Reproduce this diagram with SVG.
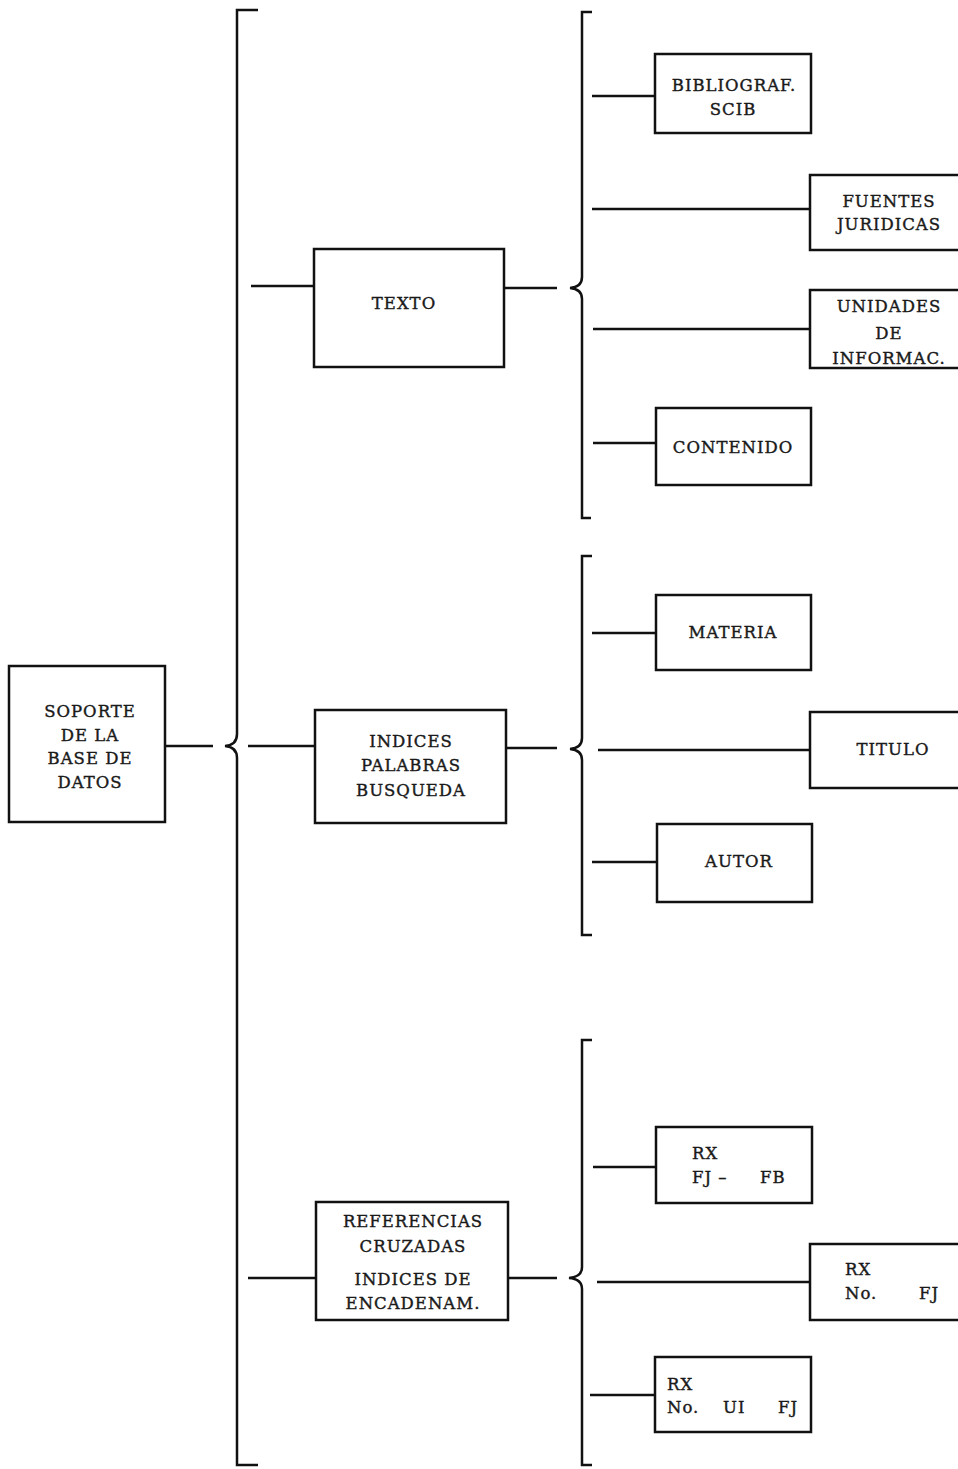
<svg xmlns="http://www.w3.org/2000/svg" width="958" height="1469" viewBox="0 0 958 1469">
<style>
.box{fill:#fff;stroke:#111;stroke-width:2.5}
.ln{fill:none;stroke:#111;stroke-width:2.5;stroke-linecap:butt;stroke-linejoin:miter}
text{font-family:"DejaVu Serif","Liberation Serif",serif;font-size:16.5px;fill:#1a1a1a;stroke:#1a1a1a;stroke-width:0.4;letter-spacing:1px}
.c{text-anchor:middle}
</style>
<rect width="958" height="1469" fill="#fff"/>
<g id="connectors">
<path class="ln" d="M258 10 L237 10 L237 734 Q237 745 225 746 Q237 747 237 758 L237 1465 L258 1465"/>
<path class="ln" d="M165 746 H213"/>
<path class="ln" d="M248 746 H315"/>
<path class="ln" d="M251 286 H314"/>
<path class="ln" d="M248 1278 H316"/>
<path class="ln" d="M592 12 L582 12 L582 277 Q582 287 570 288 Q582 289 582 299 L582 518 L591 518"/>
<path class="ln" d="M504 288 H557"/>
<path class="ln" d="M592 96 H655"/>
<path class="ln" d="M592 209 H810"/>
<path class="ln" d="M593 329 H810"/>
<path class="ln" d="M593 443 H656"/>
<path class="ln" d="M592 556 L582 556 L582 738 Q582 748 570 749 Q582 750 582 760 L582 935 L592 935"/>
<path class="ln" d="M506 748 H557"/>
<path class="ln" d="M592 633 H656"/>
<path class="ln" d="M598 750 H810"/>
<path class="ln" d="M592 862 H657"/>
<path class="ln" d="M592 1040 L582 1040 L582 1267 Q582 1277 569 1278 Q582 1279 582 1289 L582 1465 L592 1465"/>
<path class="ln" d="M508 1278 H557"/>
<path class="ln" d="M593 1167 H656"/>
<path class="ln" d="M597 1282 H810"/>
<path class="ln" d="M590 1395 H655"/>
</g>
<g id="soporte">
<rect class="box" x="9" y="666" width="156" height="156"/>
<text class="c" x="90" y="717">SOPORTE</text>
<text class="c" x="90" y="741">DE LA</text>
<text class="c" x="90" y="764">BASE DE</text>
<text class="c" x="90" y="788">DATOS</text>
</g>
<g id="texto">
<rect class="box" x="314" y="249" width="190" height="118"/>
<text class="c" x="404" y="309">TEXTO</text>
</g>
<g id="indices">
<rect class="box" x="315" y="710" width="191" height="113"/>
<text class="c" x="411" y="747">INDICES</text>
<text class="c" x="411" y="771">PALABRAS</text>
<text class="c" x="411" y="796">BUSQUEDA</text>
</g>
<g id="referencias">
<rect class="box" x="316" y="1202" width="192" height="118"/>
<text class="c" x="413" y="1227">REFERENCIAS</text>
<text class="c" x="413" y="1252">CRUZADAS</text>
<text class="c" x="413" y="1285">INDICES DE</text>
<text class="c" x="413" y="1309">ENCADENAM.</text>
</g>
<g id="bibliograf">
<rect class="box" x="655" y="54" width="156" height="79"/>
<text class="c" x="734" y="91">BIBLIOGRAF.</text>
<text class="c" x="733" y="115">SCIB</text>
</g>
<g id="fuentes">
<rect class="box" x="810" y="175" width="160" height="75"/>
<text class="c" x="889" y="207">FUENTES</text>
<text class="c" x="889" y="230">JURIDICAS</text>
</g>
<g id="unidades">
<rect class="box" x="810" y="290" width="160" height="78"/>
<text class="c" x="889" y="312">UNIDADES</text>
<text class="c" x="889" y="339">DE</text>
<text class="c" x="889" y="364">INFORMAC.</text>
</g>
<g id="contenido">
<rect class="box" x="656" y="408" width="155" height="77"/>
<text class="c" x="733" y="453">CONTENIDO</text>
</g>
<g id="materia">
<rect class="box" x="656" y="595" width="155" height="75"/>
<text class="c" x="733" y="638">MATERIA</text>
</g>
<g id="titulo">
<rect class="box" x="810" y="712" width="160" height="76"/>
<text class="c" x="893" y="755">TITULO</text>
</g>
<g id="autor">
<rect class="box" x="657" y="824" width="155" height="78"/>
<text class="c" x="739" y="867">AUTOR</text>
</g>
<g id="rx-fj-fb">
<rect class="box" x="656" y="1127" width="156" height="76"/>
<text x="692" y="1159">RX</text>
<text x="692" y="1183">FJ –</text>
<text x="760" y="1183">FB</text>
</g>
<g id="rx-no-fj">
<rect class="box" x="810" y="1244" width="160" height="76"/>
<text x="845" y="1275">RX</text>
<text x="845" y="1299">No.</text>
<text x="919" y="1299">FJ</text>
</g>
<g id="rx-no-ui-fj">
<rect class="box" x="655" y="1357" width="156" height="75"/>
<text x="667" y="1390">RX</text>
<text x="667" y="1413">No.</text>
<text x="723" y="1413">UI</text>
<text x="778" y="1413">FJ</text>
</g>
</svg>
